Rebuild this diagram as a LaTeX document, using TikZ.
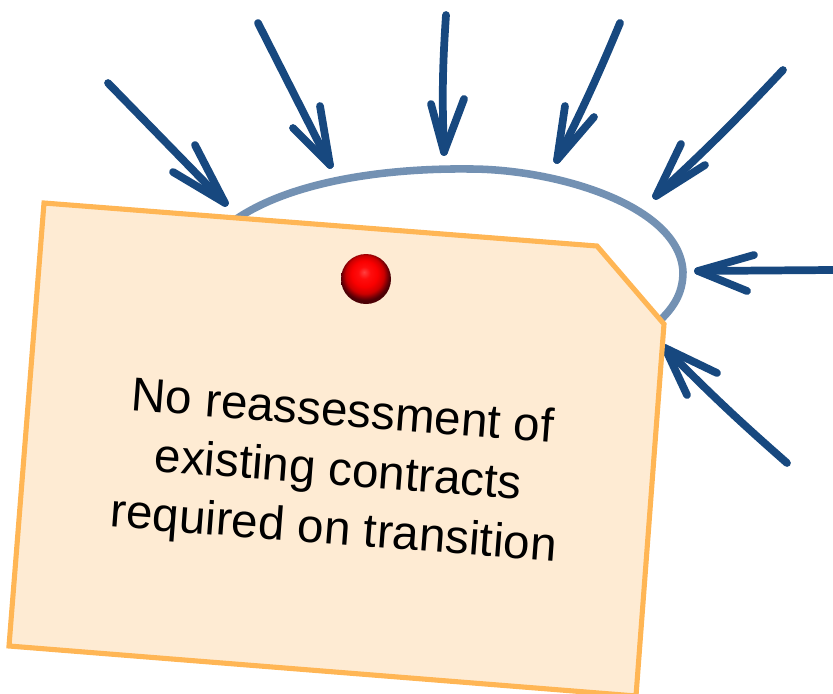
\documentclass[tikz,border=0pt]{standalone}
\usepackage{fontspec}
\setmainfont{Liberation Sans}
\usepackage{xcolor}
\definecolor{ArrowBlue}{HTML}{17487F}
\definecolor{RimBlue}{HTML}{7391B3}
\definecolor{NoteEdge}{HTML}{FFB655}
\definecolor{NoteFill}{HTML}{FEEBD3}
\usetikzlibrary{calc}
\pgfdeclareradialshading{pinball}{\pgfpoint{-2bp}{7bp}}{rgb(0bp)=(1,0.25,0.25);rgb(6bp)=(1,0.05,0.05);rgb(13bp)=(0.98,0,0);rgb(19bp)=(0.8,0,0);rgb(23bp)=(0.45,0,0.02);rgb(25bp)=(0.3,0,0.02);rgb(50bp)=(0.3,0,0.02)}

\begin{document}
\begin{tikzpicture}[
  x=0.02cm,y=-0.02cm,
  arr/.style={draw=ArrowBlue,line width=4.4pt,line cap=round,line join=round},
  rim/.style={draw=RimBlue,line width=4.3pt,line cap=round},
  note/.style={draw=NoteEdge,fill=NoteFill,line width=2.9pt,line join=miter},
  notetext/.style={align=center,rotate=-4.4,text=black,inner sep=0pt,font=\fontsize{27.1}{33.5}\selectfont}
]
  \clip (0,0) rectangle (833,694);
  \useasboundingbox (0,0) rectangle (833,694);

  % rim behind the note
  \draw[rim] (232,222) .. controls (290,180) and (390,168) .. (470,169)
    .. controls (555,169) and (680,205) .. (683,272)
    .. controls (683,295) and (672,310) .. (655,325);

  % tail / tip / barbs / bend
  \foreach \i/\tail/\tip/\barba/\barbb/\bend in {
    a/{108,83}/{225,203}/{195,145}/{173,172}/0,
    b/{258,23}/{330,165}/{320,106}/{293,128}/0,
    c/{446,15}/{444,152}/{431,104}/{464,99}/-3,
    d/{620,23}/{557,160}/{565,106}/{594,117}/2,
    e/{783,70}/{656,196}/{681,144}/{705,165}/2,
    f/{833,270}/{698,271}/{754,255}/{747,291}/0,
    g/{787,463}/{665,348}/{717,373}/{687,395}/2}{
    \coordinate (tail\i) at (\tail);
    \coordinate (tip\i) at (\tip);
    \coordinate (barba\i) at (\barba);
    \coordinate (barbb\i) at (\barbb);
    \draw[arr] (tail\i) to[bend left=\bend] (tip\i);
    \draw[arr] (barba\i) -- (tip\i) -- (barbb\i);
  }

  % note with cut corner
  \draw[note] (44,203) -- (597,246) -- (664,324) -- (636,696) -- (9,646) -- cycle;

  % pin
  \shade[shading=pinball] (366,279) circle (25);

  \node[notetext] (notelabel) at (338,473) {No reassessment of\\existing contracts\\required on transition};
\end{tikzpicture}
\end{document}
